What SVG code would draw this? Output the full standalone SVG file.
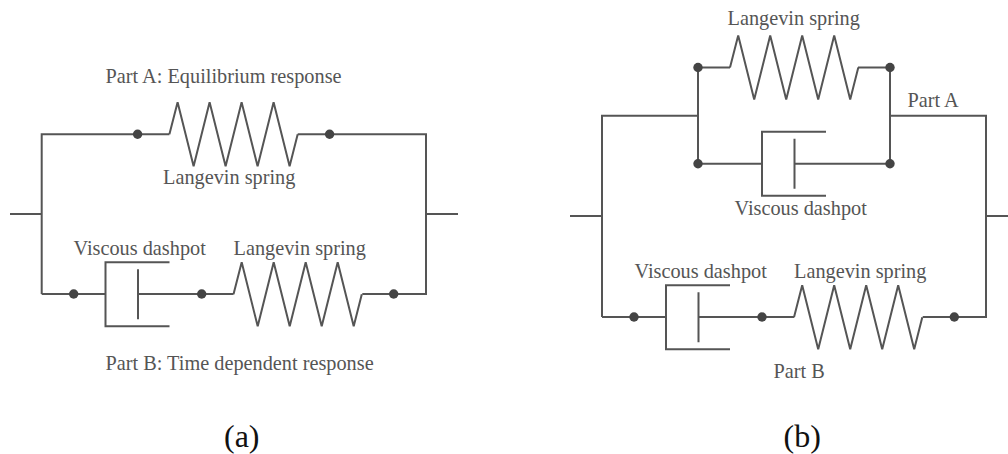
<svg xmlns="http://www.w3.org/2000/svg" width="1008" height="454" viewBox="0 0 1008 454">
<style>
.w{fill:none;stroke:#555;stroke-width:2;stroke-linejoin:miter}
.d{fill:#444}
text{font-family:"Liberation Serif","Times New Roman",serif;font-size:20.300px;fill:#555}
.c{fill:#111}
</style>
<defs>
<path id="spring" class="w" d="M0 0L8.200 -32L24.200 32L40.200 -32L56.200 32L72.200 -32L88.200 32L104.200 -32L120.200 32L128.300 0"/>
<path id="dashpot" class="w" d="M64 -32H0V32H64M32.500 -25V25"/>
</defs>
<rect width="1008" height="454" fill="#fff"/>
<g id="connectors">
<path class="w" d="M10 214H41.700M41.700 294V134.300H169.400M297.700 134.300H426V294H362.300M233.500 294H138M105.500 294H41.700M426 214H458"/>
<path class="w" d="M570 216H602M602 317V115.700H698M698 67.500V163.700M698 67.500H730M858 67.500H890V163.700M890 115.700H986V317H922.700M794 317H698M666 317H602M986 216H1008M698 163.700H762M794 163.700H890"/>
</g>
<g id="a-part-a-label"><text x="105.500" y="82.500">Part A: Equilibrium response</text></g>
<g id="a-spring-top"><use href="#spring" x="169.400" y="134.300"/><text x="163" y="184.300">Langevin spring</text></g>
<g id="a-dashpot"><use href="#dashpot" x="105.500" y="294.300"/><text x="73.500" y="255">Viscous dashpot</text></g>
<g id="a-spring-bottom"><use href="#spring" x="233.500" y="294.300"/><text x="233.500" y="255">Langevin spring</text></g>
<g id="a-part-b-label"><text x="105.500" y="370">Part B: Time dependent response</text></g>
<g id="a-dots" class="d"><circle cx="137.600" cy="134.300" r="4.700"/><circle cx="329.600" cy="134.300" r="4.700"/><circle cx="73.700" cy="294" r="4.700"/><circle cx="201.700" cy="294" r="4.700"/><circle cx="393.700" cy="294" r="4.700"/></g>
<g id="a-caption"><text class="c" x="224" y="447" style="font-size:32px">(a)</text></g>
<g id="b-spring-top"><use href="#spring" x="730" y="67.500"/><text x="727.500" y="25">Langevin spring</text></g>
<g id="b-dashpot-top"><use href="#dashpot" x="762" y="163.700"/><text x="734.500" y="215">Viscous dashpot</text></g>
<g id="b-part-a-label"><text x="907.500" y="106.700">Part A</text></g>
<g id="b-dashpot-bottom"><use href="#dashpot" x="666" y="317.300"/><text x="634.500" y="278.300">Viscous dashpot</text></g>
<g id="b-spring-bottom"><use href="#spring" x="794" y="317.300"/><text x="794" y="278.300">Langevin spring</text></g>
<g id="b-part-b-label"><text x="773.500" y="378">Part B</text></g>
<g id="b-dots" class="d"><circle cx="698" cy="67.500" r="4.700"/><circle cx="890" cy="67.500" r="4.700"/><circle cx="698" cy="163.700" r="4.700"/><circle cx="890" cy="163.700" r="4.700"/><circle cx="634" cy="317" r="4.700"/><circle cx="762" cy="317" r="4.700"/><circle cx="954.300" cy="317" r="4.700"/></g>
<g id="b-caption"><text class="c" x="783.500" y="447" style="font-size:32px">(b)</text></g>
</svg>
